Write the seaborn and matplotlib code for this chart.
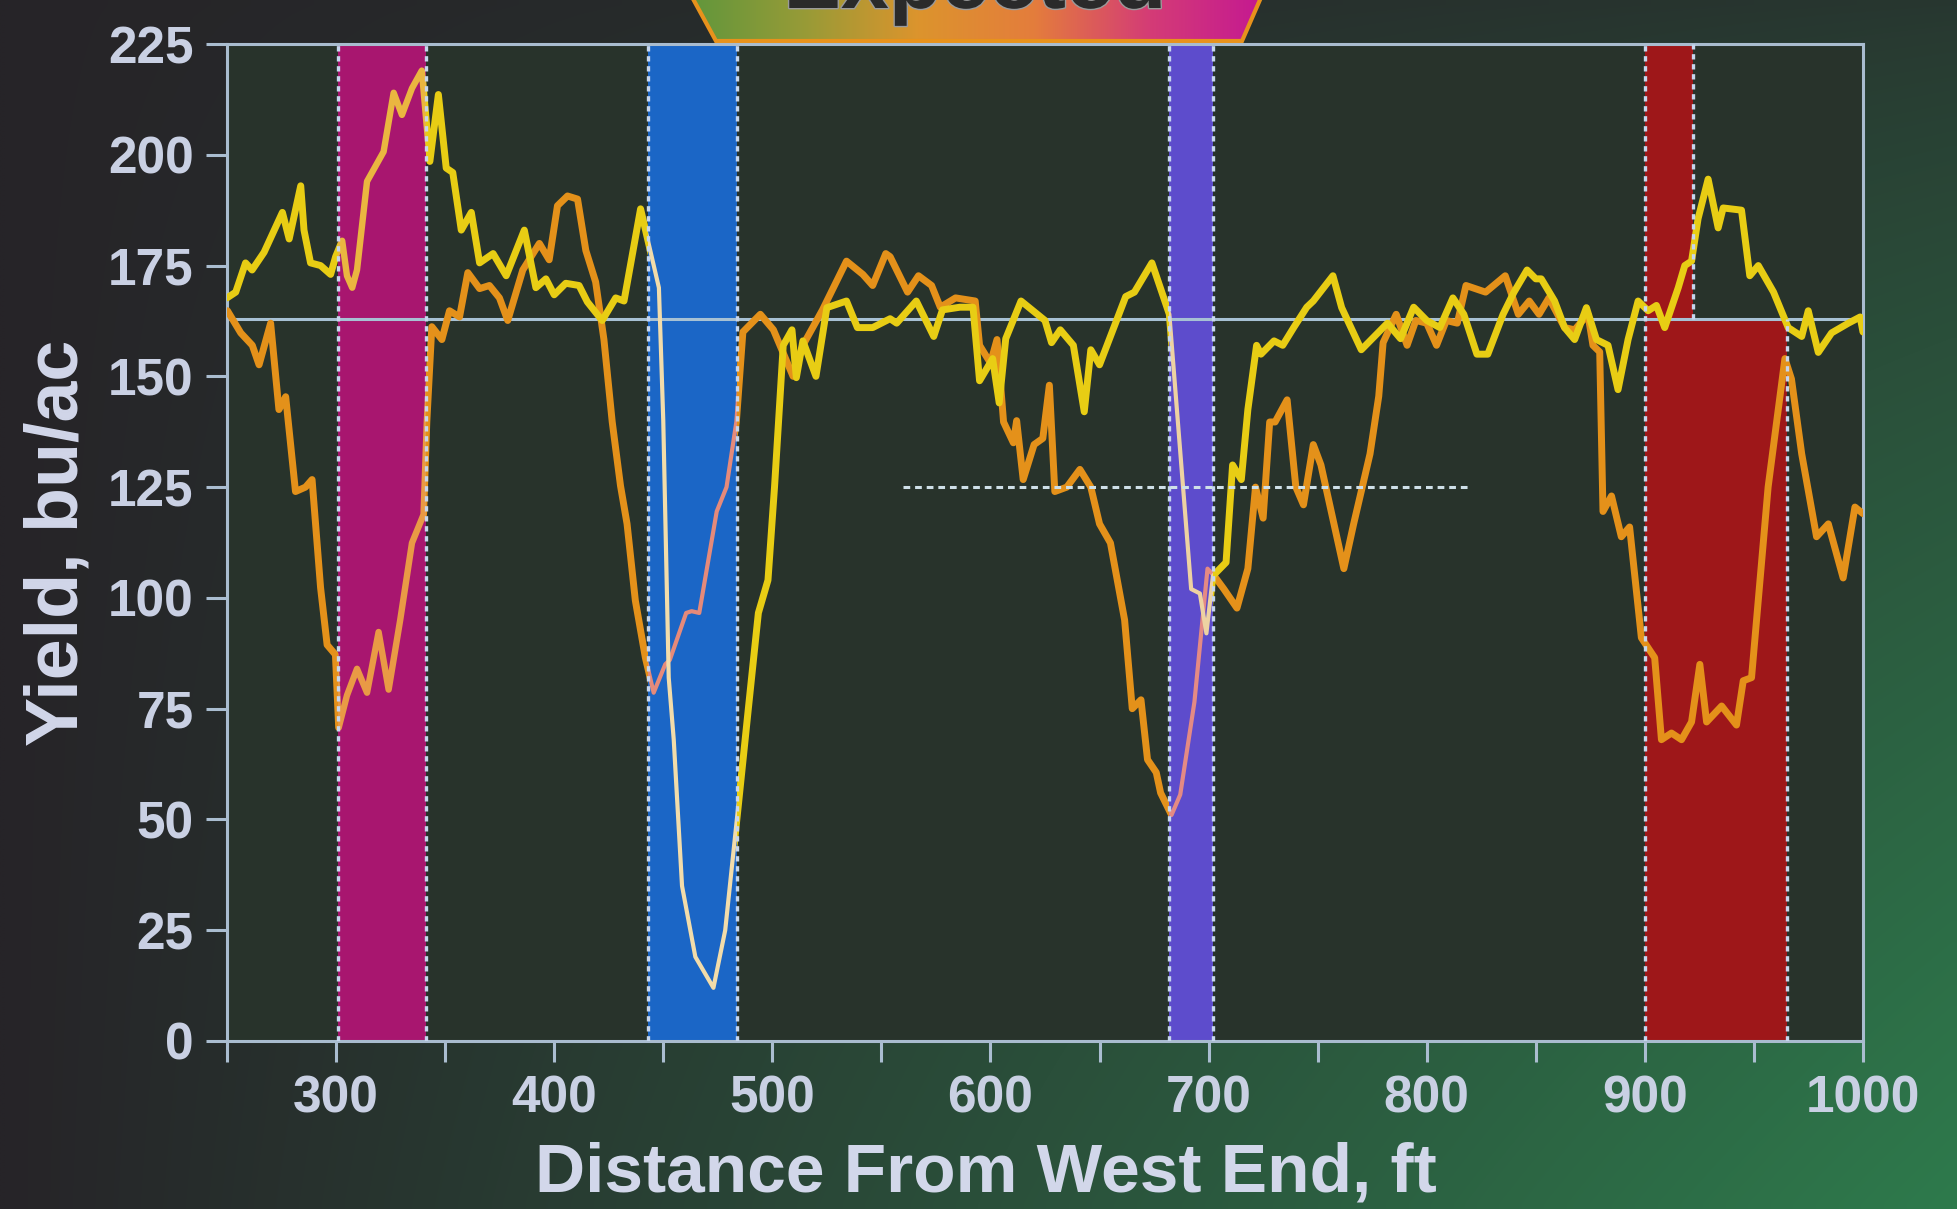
import numpy as np
import pandas as pd
import matplotlib
matplotlib.use("Agg")
import matplotlib.pyplot as plt
import matplotlib.patheffects as pe
from matplotlib.path import Path
from matplotlib.patches import PathPatch, Polygon
import seaborn as sns

# ---------------------------------------------------------------- data
# yield monitor trace, pass A (yellow)
pass_a_ft = [250, 254, 258.5, 261.5, 267, 275.4, 278.5, 283.8, 285.3, 288.3, 292.9, 297.5,
             299.8, 302.8, 305, 307.4, 309.6, 314.2, 321.8, 326.4, 330.2, 334.8, 339.3, 343,
             346.9, 350.5, 353.5, 357.4, 362, 365.8, 372, 378, 386.3, 391.6, 396.2, 400,
             405.3, 411.4, 415.2, 422, 428.2, 432, 439.6, 448, 450, 452.5, 454.8, 458.6,
             464.7, 473, 478.4, 484.5, 489, 493.6, 498, 501, 505, 509, 511, 514, 520, 525,
             534, 539, 546, 554, 557, 566, 574, 578, 586, 592, 595, 601, 604, 607, 614, 625,
             628, 632, 638, 643, 646, 650, 655, 662, 666, 674, 682, 692, 696, 699, 702, 708,
             711, 715, 718, 722, 724, 730, 734, 739, 745, 748, 757, 761, 770, 782, 788, 794,
             800, 806, 812, 817, 823, 828, 835, 840, 846, 850, 852.5, 858.6, 863.2, 867.8,
             873.2, 877.8, 883.1, 887.7, 892.3, 896.9, 901.5, 905.3, 909.1, 915.3, 918.3,
             921.4, 924.4, 929, 933.6, 935.9, 944.3, 948.1, 952, 959, 965.7, 971.9, 974.9,
             979.5, 985.6, 993.3, 998.7, 1000]
pass_a_yield = [167.7, 169, 175.6, 174, 178, 187, 181, 193, 183, 175.6, 175, 173,
                177, 180.6, 172.7, 170, 174, 194, 200.7, 214, 209, 215, 219, 198.5,
                213.6, 197, 196, 183, 187, 175.6, 177.7, 172.7, 183, 170, 172, 168.4,
                171, 170.5, 166.8, 162.6, 167.7, 167, 187.8, 170, 140, 82, 68, 35,
                19, 12, 25, 53.6, 75, 96.6, 104, 125, 157, 160.5, 149.7, 158, 150, 165.5,
                167, 161, 161, 163, 162, 167, 159, 165, 165.6, 165.6, 149, 154, 144, 158.5, 167, 162.6,
                157.6, 160.5, 157, 142, 156, 152.6, 159, 168, 169, 175.6, 164, 102, 101, 92, 105, 108,
                130, 126.7, 142.5, 157, 155, 158, 157, 161, 165.6, 167, 172.7, 165.5, 156, 162, 158.5, 165.6,
                162.6, 161, 167.7, 164, 155, 155, 164, 169, 174, 172, 172, 167, 161, 158.3,
                165.5, 158.3, 157, 147, 158.3, 167, 164.8, 166, 161, 170, 175,
                176, 185.6, 194.5, 183.5, 188, 187.5, 172.7, 175, 169, 161, 159, 164.8,
                155.4, 159.8, 162, 163.4, 160]

# yield monitor trace, pass B (orange)
pass_b_ft = [250.2, 256.3, 261.6, 264.7, 270, 273.8, 276.9, 281.4, 286, 289, 292.9, 295.9,
             299.7, 301.2, 305, 309.6, 314.2, 319.5, 324.1, 329.4, 334.8, 340.1, 341.6, 343.9,
             348.5, 352, 356.6, 360.4, 365.8, 370.3, 374.9, 378.7, 385.6, 393.2, 397.7, 401.5,
             406.1, 410.7, 414.5, 419, 422.8, 426.6, 430.4, 433.4, 437.2, 441.8, 445.6, 450.9,
             453, 460.5, 463, 466.5, 474.5, 479, 483.5, 486.5, 494.5, 500.5, 509.5, 514, 523,
             534, 541.5, 546, 552, 554, 562, 567, 573, 577, 584, 593, 595, 600, 603, 606,
             610.5, 612, 615, 620, 624, 627, 629.5, 635, 641, 646, 650, 655, 661.5, 665, 669,
             672, 676, 678, 683, 687, 693.5, 699.5, 702.5, 707, 713, 718, 721.5, 725, 728,
             730.5, 736, 740, 743.5, 748, 751.5, 762, 766.5, 774, 778, 780, 786, 791, 795,
             800, 804.5, 809, 814, 818, 827, 836, 842, 847, 851.5, 856, 863.2, 867.8, 873.9,
             876.2, 879.3, 880.8, 884.7, 889.2, 893, 898.4, 904.5, 907.6, 912.2, 916.8,
             921.4, 925.2, 928.3, 935.2, 942, 945.1, 948.9, 956.5, 964.2, 967.2, 971.9,
             978.7, 984.1, 990.9, 996.3, 1000]
pass_b_yield = [164.8, 159.8, 157, 152.6, 162, 142.5, 145.4, 124, 125, 126.7, 102.3, 89.4,
                87.2, 70.7, 78, 84, 78.6, 92.3, 79.3, 95, 112.4, 118.8, 139.7, 161.2,
                158.3, 164.8, 163.4, 173.4, 169.8, 170.5, 167.7, 162.6, 174, 180, 176.3, 188.5,
                190.7, 190, 178.4, 171.3, 158.3, 139.7, 125.3, 116.7, 99.4, 86.5, 78.6, 85,
                86, 96.6, 97, 96.6, 119.5, 125, 139.7, 160, 164, 160.5, 150, 157, 165,
                176, 173, 170.5, 177.7, 177, 169, 172.7, 170.5, 165.6, 167.7, 167, 157, 153, 158.3, 139.7,
                135, 140, 126.7, 134.6, 136, 148, 124, 125, 129, 125, 116.7, 112.4, 95, 75, 77,
                63.5, 60.6, 56, 51, 55.6, 76.5, 106.6, 105, 102, 97.7, 106.6, 125, 118, 139.7,
                139.7, 144.7, 125, 121, 134.6, 130, 106.6, 116.7, 132.5, 145.5, 157.6, 164, 157, 162.6,
                162, 157, 162.6, 162, 170.5, 169, 172.7, 164, 167, 164, 167.7, 161, 160.5, 164,
                157, 155.5, 119.5, 123, 113.8, 116, 91, 86.5, 68, 69.5, 68,
                72, 85, 72, 75.6, 71.3, 81.3, 82, 125, 154, 149.4, 132.5,
                113.8, 116.7, 104.5, 120.5, 119]

# treatment strips along the pass
strip_start = [301, 443, 682, 900]
strip_end = [341, 484, 702, 965]
strip_colors = ["#a8166f", "#1b66c6", "#5d4ccc", "#9e1719"]
red_strip_top_end = 922

expected_yield = 163
reference_yield = 125
reference_span = [560, 820]

x_ticks = list(range(250, 1001, 50))
x_tick_labels = [str(v) if v % 100 == 0 else "" for v in x_ticks]
y_ticks = list(range(0, 226, 25))

# ---------------------------------------------------------------- style
sns.set_theme(style="dark")
plt.rcParams["font.family"] = ["Liberation Sans", "DejaVu Sans"]

W, H = 1957, 1209
fig = plt.figure(figsize=(W / 100, H / 100), dpi=100)

# slide background: charcoal fading to green toward the lower right
bg = fig.add_axes([0, 0, 1, 1], zorder=0)
bg.set_xlim(0, W)
bg.set_ylim(H, 0)
bg.axis("off")
yy, xx = np.mgrid[0:1:121j, 0:1:196j]
w = np.clip(xx * (0.22 + 0.78 * yy ** 0.8), 0, 1)
dark = np.array([38, 36, 40]) / 255
green = np.array([46, 122, 76]) / 255
bg.imshow(dark + w[..., None] * (green - dark), extent=[0, W, H, 0],
          aspect="auto", interpolation="bilinear", zorder=0)

# "Expected" banner at the top edge
banner_pts = [(686, -14), (716, 41), (1242, 41), (1266, -14)]
banner_clip = Polygon(banner_pts, closed=True, transform=bg.transData)
stops = np.array([[95, 150, 60], [150, 155, 55], [220, 148, 45], [228, 125, 60],
                  [212, 60, 118], [196, 24, 146]]) / 255
pos = np.linspace(0, 1, len(stops))
t = np.linspace(0, 1, 300)
grad = np.stack([np.interp(t, pos, stops[:, k]) for k in range(3)], axis=-1)[None, :, :]
im = bg.imshow(grad, extent=[686, 1266, 41, -14], aspect="auto", zorder=1)
im.set_clip_path(banner_clip)
bg.add_patch(Polygon(banner_pts, closed=True, fill=False, edgecolor="#e8921c",
                     lw=3, zorder=2))
bg.text(975, 8, "Expected", ha="center", va="baseline", fontsize=62,
        fontweight="bold", color="#2a2a2a", zorder=3,
        path_effects=[pe.withStroke(linewidth=2, foreground="#9a9a9a")])

# ---------------------------------------------------------------- chart
ax = fig.add_axes([227 / W, 1 - 1041 / H, (1863 - 227) / W, (1041 - 44) / H], zorder=2)
ax.set_facecolor("#28332b")
ax.set_xlim(250, 1000)
ax.set_ylim(0, 225)
ax.grid(False)

edge_kw = dict(colors="#c6d6ee", linestyles=(0, (1.6, 1.4)), linewidths=2.4, zorder=6)

for s, e, c in zip(strip_start[:3], strip_end[:3], strip_colors[:3]):
    ax.axvspan(s, e, color=c, lw=0, zorder=1)
    ax.vlines([s, e], 0, 225, **edge_kw)

# last strip: full height at its west end, below the expected line further east
rs, re_, rc = strip_start[3], strip_end[3], strip_colors[3]
ax.axvspan(rs, red_strip_top_end, color=rc, lw=0, zorder=1)
ax.fill_between([rs, re_], 0, expected_yield, color=rc, lw=0, zorder=1)
ax.vlines(rs, 0, 225, **edge_kw)
ax.vlines(red_strip_top_end, expected_yield, 225, **edge_kw)
ax.vlines(re_, 0, expected_yield, **edge_kw)

ax.axhline(expected_yield, color="#a7c1d4", linewidth=2.2, zorder=2)
ax.hlines(reference_yield, reference_span[0], reference_span[1], colors="#cfe0e8",
          linestyles=(0, (2.2, 1.6)), linewidths=2.2, zorder=6)


def rect_path(a, b):
    return Path([(a, -50), (b, -50), (b, 300), (a, 300), (a, -50)],
                [Path.MOVETO, Path.LINETO, Path.LINETO, Path.LINETO, Path.CLOSEPOLY])


# traces are drawn in full colour outside the first three strips, tinted inside them
gaps = [(250, strip_start[0])] + [(strip_end[i], strip_start[i + 1]) for i in range(2)] + \
       [(strip_end[2], 1000)]
outside_clip = PathPatch(Path.make_compound_path(*[rect_path(a, b) for a, b in gaps]),
                         transform=ax.transData)

df_a = pd.DataFrame({"ft": pass_a_ft, "yield": pass_a_yield})
df_b = pd.DataFrame({"ft": pass_b_ft, "yield": pass_b_yield})

traces = [(df_b, "#e4911a", ["#e99a45", "#e58a7a", "#e48a84"], [4.6, 3.0, 3.0]),
          (df_a, "#e8cd14", ["#eab640", "#f2dcaa", "#edd2a2"], [4.6, 3.0, 3.0])]

for df, col, tints, widths in traces:
    sns.lineplot(data=df, x="ft", y="yield", color=col, linewidth=5.0, ax=ax,
                 sort=False, estimator=None, zorder=3)
    ax.lines[-1].set_clip_path(outside_clip)
    ax.lines[-1].set_solid_joinstyle("round")
    for i in range(3):
        sns.lineplot(data=df, x="ft", y="yield", color=tints[i], linewidth=widths[i], ax=ax,
                     sort=False, estimator=None, zorder=5)
        clip = PathPatch(rect_path(strip_start[i], strip_end[i]), transform=ax.transData)
        ax.lines[-1].set_clip_path(clip)
        ax.lines[-1].set_solid_joinstyle("round")

# ---------------------------------------------------------------- axes
ax.set_xticks(x_ticks)
ax.set_xticklabels(x_tick_labels)
ax.set_yticks(y_ticks)
ax.tick_params(axis="both", which="major", direction="out", length=15, width=2.2,
               color="#aabdd0", labelcolor="#c9d0e3", labelsize=37,
               bottom=True, left=True)
ax.tick_params(axis="y", pad=9)
ax.tick_params(axis="x", pad=9)
for lab in ax.get_xticklabels() + ax.get_yticklabels():
    lab.set_fontweight("bold")
for sp in ax.spines.values():
    sp.set_visible(True)
    sp.set_color("#a9bccf")
    sp.set_linewidth(2.2)

ax.set_xlabel("Distance From West End, ft", fontsize=50, fontweight="bold", color="#d2d7ea")
ax.xaxis.set_label_coords(0.464, -0.101)
ax.set_ylabel("Yield, bu/ac", fontsize=53, fontweight="bold", color="#d2d7ea")
ax.yaxis.set_label_coords(-0.082, 0.5)

fig.savefig("out.png", dpi=100)
